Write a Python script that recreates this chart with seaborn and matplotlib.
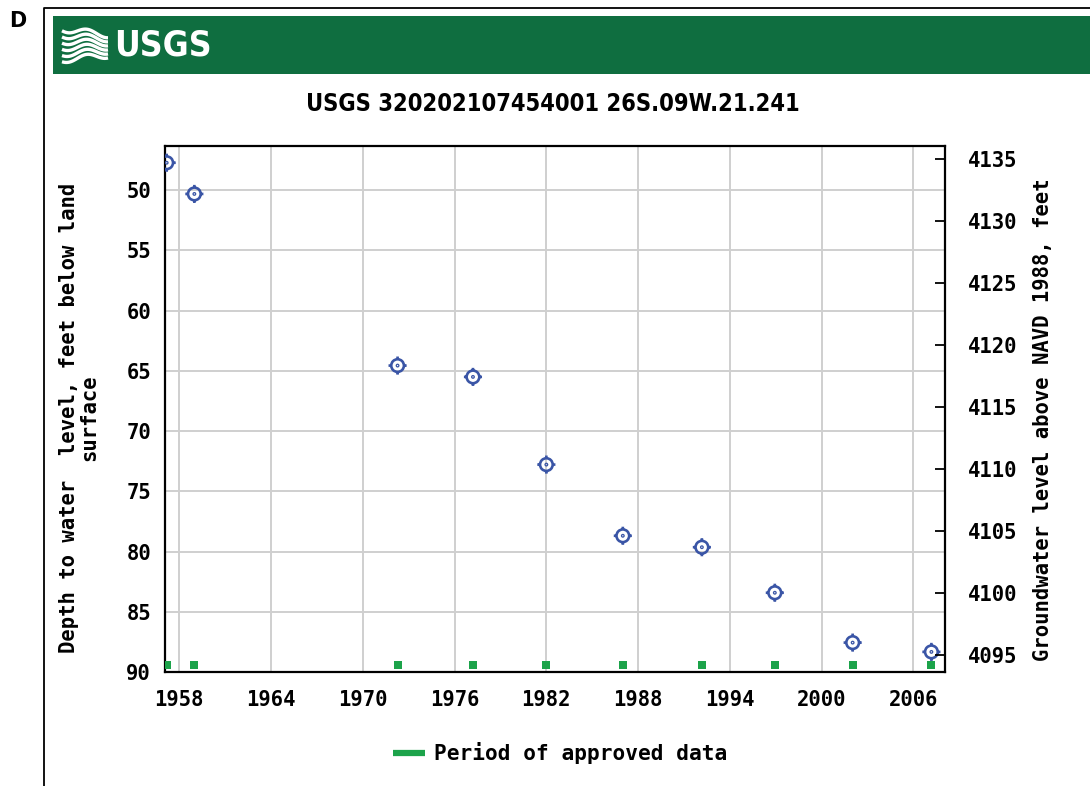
import numpy as np
import pandas as pd
import matplotlib
matplotlib.use("Agg")
import matplotlib.pyplot as plt
from matplotlib.path import Path
from matplotlib.markers import MarkerStyle
import seaborn as sns

# Sample dates (decimal years) and depth to water (feet below land surface)
years = [1957.17, 1958.98, 1972.27, 1977.20, 1982.00, 1987.00,
         1992.17, 1996.94, 2002.03, 2007.18]
depths = [47.72, 50.31, 64.56, 65.50, 72.78, 78.69,
          79.64, 83.42, 87.56, 88.33]

x_ticks = [1958, 1964, 1970, 1976, 1982, 1988, 1994, 2000, 2006]
depth_ticks = [50, 55, 60, 65, 70, 75, 80, 85, 90]
elev_ticks = [4095, 4100, 4105, 4110, 4115, 4120, 4125, 4130, 4135]

site_title = "USGS 320202107454001 26S.09W.21.241"
left_label = "Depth to water  level, feet below land\nsurface"
right_label = "Groundwater level above NAVD 1988, feet"
legend_label = "Period of approved data"

df = pd.DataFrame({"year": years, "depth": depths})
approved = pd.DataFrame({"year": years, "depth": [89.4] * len(years)})

sns.set_style("white")
plt.rcParams["font.family"] = ["DejaVu Sans Mono", "DejaVu Sans"]
plt.rcParams["text.color"] = "black"
plt.rcParams["xtick.color"] = "black"
plt.rcParams["ytick.color"] = "black"

BLUE = "#3a55a6"
GREEN = "#1ca34a"
BANNER = "#0f6e40"
GRID = "#cfcfcf"
MONO = 14.8

fig = plt.figure(figsize=(10.9, 7.86), dpi=100)
W, H = 1090, 786
renderer = fig.canvas.get_renderer()


def fx(px):
    return px / W


def fy(py):
    return 1 - py / H


def fit_width(txt, target_px):
    """Scale a text's font size so it spans target_px pixels."""
    w = txt.get_window_extent(renderer).width
    txt.set_fontsize(txt.get_fontsize() * target_px / w)


# Outer frame and panel letter
frame = fig.add_axes([0, 0, 1, 1], zorder=-5)
frame.set_xlim(0, W)
frame.set_ylim(H, 0)
frame.axis("off")
frame.plot([44, 44, 1095], [800, 8, 8], color="black", lw=1.3)
frame.add_patch(plt.Rectangle((53, 16), 1045, 58, color=BANNER, lw=0))
frame.text(9, 21, "D", fontsize=15, fontweight="bold", family="DejaVu Sans",
           va="center", ha="left")

# Banner logo: wave mark and agency letters
t = np.linspace(0, 1, 60)
for i in range(6):
    base = 29 + 6.2 * i
    xs = 62 + 46 * t
    ys = base + 3.0 * np.sin(2 * np.pi * (t * 1.2 + 0.1)) + (46 - base) * 0.35 * t
    frame.plot(xs, ys, color="white", lw=2.4, solid_capstyle="butt")
logo = frame.text(114, 46, "USGS", color="white", fontsize=34, fontweight="heavy",
                  family="DejaVu Sans", fontstretch="condensed",
                  va="center", ha="left")
fit_width(logo, 98)

# Title
title = frame.text(553, 104, site_title, fontsize=23, fontweight="bold",
                   family="DejaVu Sans", fontstretch="condensed",
                   va="center", ha="center")
fit_width(title, 495)

# Main axes
ax = fig.add_axes([fx(165), fy(672), fx(944.7) - fx(165), fy(146) - fy(672)])

# Target-style marker: ring with four short ticks and a centre dot
ring = Path.circle((0, 0), 0.70)
verts = list(ring.vertices)
codes = list(ring.codes)
for (a, b) in [((0.70, 0), (1.0, 0)), ((-0.70, 0), (-1.0, 0)),
               ((0, 0.70), (0, 1.0)), ((0, -0.70), (0, -1.0))]:
    verts += [a, b]
    codes += [Path.MOVETO, Path.LINETO]
dot = Path.circle((0, 0), 0.07)
verts += list(dot.vertices)
codes += list(dot.codes)
target = Path(np.array(verts), codes)

sns.scatterplot(data=df, x="year", y="depth", ax=ax, marker=MarkerStyle(target),
                s=170, color=BLUE, facecolor="none", edgecolor=BLUE,
                linewidth=1.9, zorder=4, legend=False)
sns.scatterplot(data=approved, x="year", y="depth", ax=ax, marker="s",
                s=28, color=GREEN, edgecolor=GREEN, linewidth=0, zorder=3,
                legend=False)
ax.set_xlabel("")
ax.set_ylabel("")
ax.set_xlim(1957.06, 2008.05)
ax.set_ylim(90, 46.33)
ax.set_xticks(x_ticks)
ax.set_yticks(depth_ticks)
ax.grid(True, color=GRID, lw=1.4)
ax.set_axisbelow(True)
for s in ax.spines.values():
    s.set_color("black")
    s.set_linewidth(1.6)
ax.tick_params(axis="both", length=0, labelsize=MONO)
ax.tick_params(axis="x", pad=13)
ax.tick_params(axis="y", pad=10)
for lab in ax.get_xticklabels() + ax.get_yticklabels():
    lab.set_fontweight("bold")

# Secondary axis for elevation
ax2 = ax.twinx()
ax2.set_ylim(4093.63, 4136.05)
ax2.set_yticks(elev_ticks)
ax2.tick_params(axis="y", direction="in", length=7, width=1.3,
                labelsize=MONO, pad=16.5)
for lab in ax2.get_yticklabels():
    lab.set_fontweight("bold")
for s in ax2.spines.values():
    s.set_visible(False)

# Axis titles
frame.text(79, 418, left_label, rotation=90, fontsize=MONO, fontweight="bold",
           ha="center", va="center", linespacing=1.0, multialignment="center")
frame.text(1043, 420, right_label, rotation=90, fontsize=MONO, fontweight="bold",
           ha="center", va="center")

# Legend
frame.plot([393, 425], [753, 753], color=GREEN, lw=4.5, solid_capstyle="butt")
frame.text(434, 753, legend_label, fontsize=15.2, fontweight="bold",
           ha="left", va="center")

fig.savefig("out.png", dpi=100)
